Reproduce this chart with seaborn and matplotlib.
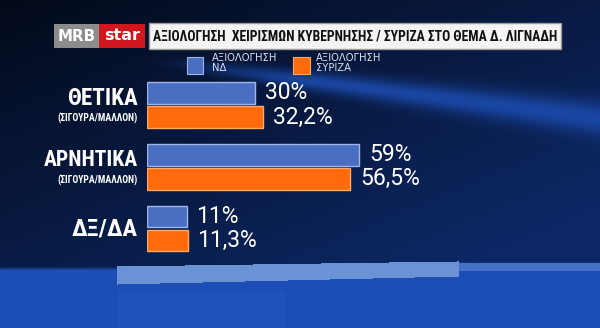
import numpy as np
import pandas as pd
import matplotlib
matplotlib.use("Agg")
import matplotlib.pyplot as plt
from matplotlib.patches import Rectangle
from matplotlib import font_manager
import seaborn as sns

# ---- data ----
categories = ["ΘΕΤΙΚΑ", "ΑΡΝΗΤΙΚΑ", "ΔΞ/ΔΑ"]
subtitles = ["(ΣΙΓΟΥΡΑ/ΜΑΛΛΟΝ)", "(ΣΙΓΟΥΡΑ/ΜΑΛΛΟΝ)", ""]
series_names = ["ΑΞΙΟΛΟΓΗΣΗ\nΝΔ", "ΑΞΙΟΛΟΓΗΣΗ\nΣΥΡΙΖΑ"]
nd_values = [30, 59, 11]
syriza_values = [32.2, 56.5, 11.3]
title = "ΑΞΙΟΛΟΓΗΣΗ  ΧΕΙΡΙΣΜΩΝ ΚΥΒΕΡΝΗΣΗΣ / ΣΥΡΙΖΑ ΣΤΟ ΘΕΜΑ Δ. ΛΙΓΝΑΔΗ"

colors = ["#4a6ec2", "#ff6a0c"]
edges = ["#9db6e6", "#ffa868"]

names = {f.name for f in font_manager.fontManager.ttflist}
narrow = "DejaVu Sans"
for cand in ["Roboto Condensed", "Open Sans Condensed", "Liberation Sans Narrow", "Noto Sans Condensed"]:
    if cand in names:
        narrow = cand
        break
num_font = "Roboto" if "Roboto" in names else "DejaVu Sans"

sns.set_theme(style="white")
plt.rcParams["font.family"] = ["DejaVu Sans"]

W, H = 600, 328
fig = plt.figure(figsize=(W / 100, H / 100), dpi=100)
renderer = fig.canvas.get_renderer()


def fit_width(txt, target_px):
    bb = txt.get_window_extent(renderer)
    if bb.width > target_px:
        txt.set_fontsize(txt.get_fontsize() * target_px / bb.width)


# ---- background ----
bg = fig.add_axes([0, 0, 1, 1])
yy, xx = np.mgrid[0:H, 0:W].astype(float)
t = np.clip(0.55 * xx / W + 0.55 * yy / 250, 0, 1)
dark = np.array([4, 10, 26]) / 255
mid = np.array([12, 40, 100]) / 255
img = dark[None, None, :] * (1 - t[..., None]) + mid[None, None, :] * t[..., None]
x0, y0, x1, y1 = 150, 60, 600, 118
lt = np.clip((xx - x0) / (x1 - x0), 0, 1)
yc = y0 + lt * (y1 - y0)
hw = 5 + 12 * lt
d = (yy - yc) / hw
streak = np.exp(-d ** 2) * np.clip((xx - x0) / 150, 0, 1) * 0.8
sc = np.array([30, 80, 185]) / 255
img = img * (1 - streak[..., None]) + sc[None, None, :] * streak[..., None]
top_b = 266 - 5 * np.clip((xx - 117) / 340, 0, 1)
bot_b = 284 - 8 * np.clip((xx - 117) / 340, 0, 1)
blue_low = np.array([28, 78, 182]) / 255
soft = np.clip((yy - top_b) / 4, 0, 1)
img = img * (1 - soft[..., None]) + blue_low[None, None, :] * soft[..., None]
band = (yy >= top_b) & (yy <= bot_b) & (xx >= 117) & (xx <= 458)
img[band] = np.array([108, 146, 214]) / 255
band2 = (yy >= top_b + 2) & (yy <= top_b + 9) & (xx > 458)
img[band2] = np.array([70, 112, 200]) / 255
lower_light = (yy > 290) & (xx > 117) & (xx < 285)
img[lower_light] = img[lower_light] * 0.8 + np.array([55, 100, 200]) / 255 * 0.2
bg.imshow(np.clip(img, 0, 1), extent=[0, W, H, 0], aspect="auto", interpolation="bilinear")
bg.set_xlim(0, W)
bg.set_ylim(H, 0)
bg.axis("off")

# ---- header ----
bg.add_patch(Rectangle((149, 23), 412, 26, facecolor="#f4f4f4", edgecolor="#9a9a9a", lw=1))
bg.add_patch(Rectangle((54, 24), 45, 24, facecolor="#8c8c8c", edgecolor="none"))
bg.add_patch(Rectangle((99, 24), 46, 24, facecolor="#d2161e", edgecolor="none"))
t_mrb = bg.text(76.5, 36.5, "MRB", color="white", fontsize=11, fontweight="bold",
                ha="center", va="center", family=["DejaVu Sans"])
fit_width(t_mrb, 38)
t_star = bg.text(122, 35.5, "star", color="white", fontsize=11.5, fontweight="bold",
                 ha="center", va="center", family=["DejaVu Sans"])
fit_width(t_star, 38)
t_title = bg.text(355, 36.5, title, color="#111111", fontsize=13, fontweight="bold",
                  ha="center", va="center", family=[narrow], fontstretch="condensed")
fit_width(t_title, 404)

# ---- legend ----
bg.add_patch(Rectangle((187, 57), 16, 17, facecolor=colors[0], edgecolor=edges[0], lw=0.8))
bg.add_patch(Rectangle((293, 57), 17, 17, facecolor=colors[1], edgecolor=edges[1], lw=0.8))
for lx, name in zip([212, 316], series_names):
    bg.text(lx, 63, name, color="#d8e0f2", fontsize=7.2, ha="left", va="center",
            linespacing=0.95, family=["DejaVu Sans"])

# ---- bars ----
ax = fig.add_axes([147 / W, 1 - 265.55 / H, 450 / W, 197.6 / H])
ax.patch.set_alpha(0)
df = pd.DataFrame({
    "cat": categories * 2,
    "series": [series_names[0]] * 3 + [series_names[1]] * 3,
    "value": nd_values + syriza_values,
})
sns.barplot(data=df, y="cat", x="value", hue="series", hue_order=series_names,
            order=categories, palette=colors, width=0.78, gap=0.1,
            ax=ax, legend=False, saturation=1, orient="h")
for cont, ec, vals in zip(ax.containers, edges, [nd_values, syriza_values]):
    for p in cont:
        p.set_edgecolor(ec)
        p.set_linewidth(1.0)
    labels = [f"{v:g}".replace(".", ",") + "%" for v in vals]
    ax.bar_label(cont, labels=labels, padding=7, color="white", fontsize=16.5,
                 family=[num_font])
ax.set_xlim(0, 125)
ax.set_ylim(2.6, -0.6)
ax.axis("off")

main_w = [70, 94, 66]
for i, (c, s) in enumerate(zip(categories, subtitles)):
    yoff = -0.11 if s else 0.0
    tm = ax.text(-2.5, i + yoff, c, color="white", fontsize=19, fontweight="bold",
                 ha="right", va="center", family=[narrow], fontstretch="condensed", clip_on=False)
    fit_width(tm, main_w[i])
    if s:
        ts = ax.text(-2.5, i + 0.215, s, color="white", fontsize=7, fontweight="bold",
                     ha="right", va="center", family=[narrow], fontstretch="condensed", clip_on=False)
        fit_width(ts, 82)

fig.savefig("out.png", dpi=100)
